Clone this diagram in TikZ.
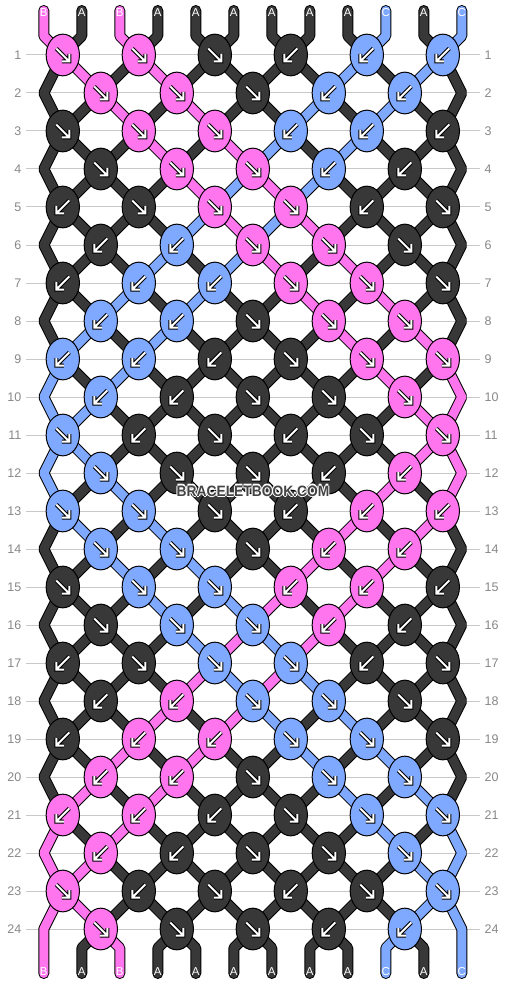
\documentclass[tikz,border=0pt]{standalone}
\usepackage{fontspec}
\setmainfont{Liberation Sans}
\usetikzlibrary{shapes.geometric}
\definecolor{colA}{HTML}{383838}
\definecolor{colB}{HTML}{FF75EE}
\definecolor{colC}{HTML}{7FA8FF}
\definecolor{rowline}{HTML}{C8C8C8}
\definecolor{rownum}{HTML}{888888}
\definecolor{wmark}{HTML}{444444}
\tikzset{
  knot/.style={ellipse, draw=black, line width=1pt, minimum width=33.3pt, minimum height=41.7pt, inner sep=0pt},
  strout/.style={draw=black, line width=11pt, line cap=round, line join=bevel},
  strin/.style={line width=9pt, line cap=round, line join=bevel},
  arrout/.style={draw=black, line width=4pt, line join=miter},
  arrin/.style={draw=white, line width=2pt, line join=miter},
  rowrule/.style={draw=rowline, line width=1pt},
  rownumber/.style={text=rownum, font=\fontsize{12.5}{14}\selectfont, inner sep=0pt},
  strlabel/.style={text=white, font=\fontsize{11.5}{12}\selectfont, inner sep=0pt},
  wmtext/.style={font=\bfseries\fontsize{15}{16}\selectfont, inner sep=0pt, xscale=0.92},
}
\def\initcols{B,A,B,A,A,A,A,A,A,C,A,C}
\begin{document}
\begin{tikzpicture}[x=1pt,y=-1pt]
\useasboundingbox (0,0) rectangle (506,984);
\fill[white] (0,0) rectangle (506,984);
% row rules and numbers
\foreach \r in {1,...,24}{
  \draw[rowrule] (26,17+38*\r) -- (480,17+38*\r);
  \node[rownumber, anchor=east] (ln\r) at (21.5,17+38*\r) {\r};
  \node[rownumber, anchor=west] (rn\r) at (484.5,17+38*\r) {\r};
}
% string positions per row
\foreach \r in {1,...,24}{
  \foreach \p in {1,...,12}{
    \pgfmathsetmacro\xx{isodd(\r) ? 62.8+76*floor((\p-1)/2) : (\p==1 ? 43.8 : (\p==12 ? 461.8 : 100.8+76*floor((\p-2)/2)))}
    \coordinate (n-\r-\p) at (\xx,17+38*\r);
  }
}
% strings
\foreach \kc [count=\s] in \initcols {
  \pgfmathsetmacro\xs{43.8+38*(\s-1)}
  \xdef\curpos{\s}
  \xdef\pth{(\xs,10.5) -- (\xs,36)}
  \foreach \r in {1,...,24}{
    \xdef\pth{\pth -- (n-\r-\curpos)}
    \pgfmathtruncatemacro\newpos{isodd(\r) ? (isodd(\curpos) ? \curpos+1 : \curpos-1) : ((\curpos==1 || \curpos==12) ? \curpos : (isodd(\curpos) ? \curpos-1 : \curpos+1))}
    \xdef\curpos{\newpos}
  }
  \pgfmathsetmacro\xe{43.8+38*(\curpos-1)}
  \xdef\pth{\pth -- (\xe,948) -- (\xe,973.5)}
  \edef\tmp{\noexpand\draw[strout] \pth; \noexpand\draw[strin, draw=col\kc] \pth;}
  \tmp
}
% knots
\foreach \r/\ks in {
 1/{B/f,B/f,A/f,A/b,C/b,C/b},
 2/{B/f,B/f,A/f,C/b,C/b},
 3/{A/f,B/f,B/f,C/b,C/b,A/b},
 4/{A/f,B/f,B/f,C/b,A/b},
 5/{A/b,A/f,B/f,B/f,A/b,A/f},
 6/{A/b,C/b,B/f,B/f,A/f},
 7/{A/b,C/b,C/b,B/f,B/f,A/f},
 8/{C/b,C/b,A/f,B/f,B/f},
 9/{C/b,C/b,A/b,A/f,B/f,B/f},
 10/{C/b,A/b,A/f,A/f,B/f},
 11/{C/f,A/b,A/f,A/b,A/f,B/f},
 12/{C/f,A/f,A/f,A/b,B/b},
 13/{C/f,C/f,A/f,A/b,B/b,B/b},
 14/{C/f,C/f,A/f,B/b,B/b},
 15/{A/f,C/f,C/f,B/b,B/b,A/b},
 16/{A/f,C/f,C/f,B/b,A/b},
 17/{A/b,A/f,C/f,C/f,A/b,A/f},
 18/{A/b,B/b,C/f,C/f,A/f},
 19/{A/b,B/b,B/b,C/f,C/f,A/f},
 20/{B/b,B/b,A/f,C/f,C/f},
 21/{B/b,B/b,A/b,A/f,C/f,C/f},
 22/{B/b,A/b,A/f,A/f,C/f},
 23/{B/f,A/b,A/f,A/b,A/f,C/f},
 24/{B/f,A/f,A/f,A/b,C/b}}{
  \foreach \kc/\kdir [count=\i] in \ks {
    \pgfmathsetmacro\kx{(isodd(\r) ? 62.8 : 100.8) + 76*(\i-1)}
    \node[knot, fill=col\kc] (k-\r-\i) at (\kx,17+38*\r) {};
    \if\kdir f\def\sx{1}\else\def\sx{-1}\fi
    \begin{scope}[shift={(k-\r-\i.center)}, xscale=\sx]
      \draw[arrout] (-6.5,-6.5) -- (5.5,5.5) (6.5,-1) -- (6.5,6.5) -- (-1,6.5);
      \draw[arrin] (-6.5,-6.5) -- (5.5,5.5) (6.5,-1) -- (6.5,6.5) -- (-1,6.5);
    \end{scope}
  }
}
% string labels
\foreach \kc [count=\s] in \initcols {
  \node[strlabel] (tl\s) at (43.8+38*\s-38,12.5) {\kc};
  \node[strlabel] (bl\s) at (43.8+38*\s-38,972) {\kc};
}
% watermark
\foreach \dx/\dy [count=\w] in {-1.2/0,1.2/0,0/-1.2,0/1.2}{
  \node[wmtext, text=white] (wm\w) at (253+\dx,491+\dy) {BRACELETBOOK.COM};
}
\node[wmtext, text=wmark] (wm) at (253,491) {BRACELETBOOK.COM};
\end{tikzpicture}
\end{document}
